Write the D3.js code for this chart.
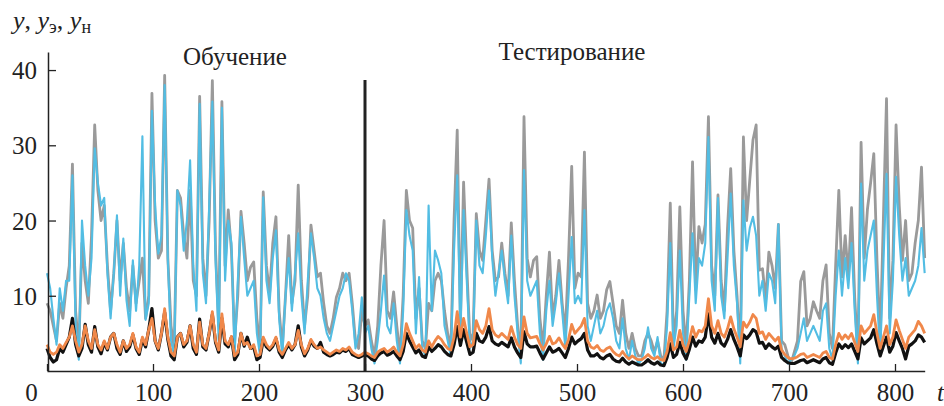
<!DOCTYPE html>
<html><head><meta charset="utf-8">
<script src="https://cdn.jsdelivr.net/npm/d3@7"></script>
<style>html,body{margin:0;padding:0;background:#fff}svg{display:block}
svg text{font-family:"Liberation Serif","DejaVu Serif",serif !important;}</style>
</head><body>
<svg id="c" width="944" height="406"></svg>
<script>
// time step of the series (t = 0, 3, 6, ... 828)
const tStep = 3;
const xTicks = [0,100,200,300,400,500,600,700,800];
const yTicks = [10,20,30,40];
const splitT = 300;
const phaseLabels = ["Обучение","Тестирование"];

// y (grey)
const yActual = [
9,8,6,4,9,7,11,14,27.5,8,
3,17,12,9,18,32.7,24,20,22,14,
8,13,20,12,17,11,8,14,9,12,
15,7,10,36.9,20,15,16,39.3,15,6,
3,24,23,18,15,24,12,10,36.5,15,
10,20,38.6,16,6,35.8,14,21.4,16,4,
10,21.2,17,12,13.8,14.5,7,3,23.8,14,
10.3,17,20.5,8,3,10,18,9,12,24.7,
12,6,10,19.4,16,12.5,13,9,6,5,
7,9.8,11,13,12,13,9,4,3,8,
6,6.8,4,2,6,14,20,8,7,10.5,
6,2,10,24,20,19,7,11,4,3,
9,8,12,13,12,8,5,3,20,32,
6,25.1,14,4,5,20.9,16,14.7,20,25.5,
16,12,12.5,17,13,10,19.7,12,6,2,
33.8,15,12.5,14.7,15.2,7,3,10,15.8,7,
10,14.7,9,5,15,27.2,11,13,12.5,29.1,
9,7,8,10.1,7,8,10.8,11.9,9,6,
5,9.4,5,3,5,3,2,2,4,5,
4,2.5,4,2,1.5,8,22.3,4,8,21.8,
8,3,12,27.8,10.8,19.2,17,19.5,33.8,14,
10,23.4,12,8,19,26.9,16,10,2,31.1,
20,25.4,30.7,32.7,13.4,13.6,9.4,15.8,14,11,
19.5,4,3.5,2,1,2.5,4,11.9,13.2,6,
7,9.2,8,7,12,14.1,5,3,14,24,
12.5,18,12.5,21.7,9.8,2,30.4,15,21.5,25,
28.9,14.7,4,20,36.2,7,14.7,32.7,22,14.7,
20,12,13,17,20,27.1,15];

// y_э (blue)
const yExp = [
13,11,7,3.5,11,8,12,12,26,6,
1.5,20,14,10,15,29.6,25,22,23,13,
7,13,20.7,10,17.6,9.4,6,14.7,8,14,
31.2,6.8,9,34.6,22,15.6,18,38,14.7,4,
2,24,22,16,20,28,14,8,35.5,13,
9,22,35.8,14.7,4,35,12,20,17,2,
12,20.5,15,10,11,12,5,2,23.1,12,
9,15,18.7,7,2,10,15,8,13,18.3,
10,5,12,18.3,15,11,10,7,5,4,
6,8,10,11,13,12,8,3,5,9.8,
5,6,3,1,4,8,12.7,6,5,9,
4,1,8,21.4,18,16,5,12.5,3,2,
22,8,16,14.7,13,6,4,2,16,26,
5,21.4,12,3,4,20,14,13,18,24,
15,10,13,16,12,9,18,10,5,1,
26.7,12,10,11,12,5,1.5,8,12,6,
9,13,8,3,10,17.8,9,10,9,21.4,
6,4,6,8,5,6,8,9,7,4,
3,7,3,1.5,4,2,1,1.5,3,5.8,
3,2,4.5,1,0.8,6,17,3,6,16,
5,1.5,10,18.3,9,15,14,17,31.1,12,
8,23,10,7,15,23.6,14,9,1,22.7,
16,19,20.5,18,10,12,8,13,12,9,
19.5,3,2,1,1.5,2,3,5,7,4,
5,6,5,4,8,9,3,1.5,10,16,
10,15,11,17,8,1,24.9,12,16,18,
20,10,2,14,26.2,5,12,25.8,18,12,
15,10,11,12,14,19,13];

// y_н (orange)
const yNet = [
3.5,2.5,2.2,2.5,3.5,3,3.8,4.5,6,4,
2.5,3.5,6,4,3,5.5,3.5,2.8,4,3,
4.5,5,3.5,2.5,4,3,3.5,5,3.2,2.5,
4.5,3.5,5.5,7,4,3,5,8.3,4.5,2.5,
2,4.5,5,3.5,4,6,3.5,2.5,6.5,3.5,
3,5,7.9,4,2.8,7.6,4,3.5,4.6,2,
2.5,5,3.5,3.8,3,3.5,2,2.2,4.5,3.5,
3,3.5,4.5,2.8,2.2,3,3.8,3,3.5,5.4,
3.5,2.3,3,4.2,3.5,3,3.2,2.8,2.5,2.2,
2.5,2.8,2.6,3,2.8,3.2,2.5,2.2,2,2.2,
2.5,2.3,2,1.8,2.5,2.8,3,2.5,2.8,3.2,
2.5,2,3.5,6.3,5,4,3,3.5,2.8,2.5,
4,3.2,4,4.6,4.2,3.5,3,2.8,4.5,7.9,
4.5,7,5,3.2,3.5,6.7,5.5,5,6,8.3,
5.5,4.8,4.5,5,4.6,4.2,5.9,4.5,3.5,3,
7.2,5,4.4,4.5,4.6,3.6,2.8,3.6,4.6,3.6,
3.8,4.4,3.6,3,4.2,6.2,5,5.5,6,7,
4,3.2,3,3.4,2.8,2.6,3,3.2,2.6,2.2,
2,2.6,2,1.6,2,1.7,1.5,1.5,1.8,2.2,
1.8,1.6,1.9,1.5,1.4,2.6,5.1,2.8,3.2,5.4,
3.5,2.6,4,5.9,4.5,5.4,5.2,6,9.6,6,
5,6.7,5,4.5,5.6,7.2,5.6,4.5,3.2,6.5,
5.8,6.5,7.5,7,5,5.2,4.2,5,4.5,4,
4.5,2.8,2.2,1.8,1.6,1.7,1.9,2.2,2.3,1.8,
2,2.2,2,1.8,2.4,2.6,1.8,1.6,3.5,5,
4.2,4.8,4.3,5,3.8,2.6,6,5,5.5,6,
7.5,5,3,4.5,6,3.5,4.5,6.8,5.4,4.2,
3,4.5,5,5.5,6.6,6,5];

// black
const yBlack = [
3,1.8,1.2,1.5,3,2.5,3.5,4.5,7,3.5,
2,3,6.2,3.5,2.5,5.9,3.2,2.3,3.8,2.8,
4.5,5,3,2.2,4,2.6,3.2,4.8,3,2.2,
4.2,3.2,5.5,8.3,4,2.8,5,7.8,4.2,2,
1.5,4.5,5,3.2,3.8,6,3,2.2,6.9,3.2,
2.8,5,7.5,3.8,2.5,7,3.6,3.2,4.5,1.5,
2.2,5,3.3,4.5,3,3.2,1.5,1.8,4.2,3.2,
2.8,3.3,4.3,2.5,1.8,2.8,3.5,2.8,3.5,6,
3.2,2,2.8,4,3.3,3,3.8,2.5,2.2,2,
2.2,2.5,2.4,2.8,2.6,3,2.2,2,1.8,2,
2.2,2,1.6,1.4,2,2.4,2.6,2.1,2.3,2.6,
2,1.5,2.6,5,4,3.2,2.4,2.8,2,1.8,
3.2,2.6,3,3.5,3.2,2.6,2.2,2,3.5,5.9,
3.4,5.5,3.8,2.2,2.5,5,4,3.8,4.5,5.9,
4,3.6,3.4,3.8,3.5,3.2,4.4,3.2,2.4,1.8,
5.2,3.6,3.2,3.2,3.3,2.4,1.6,2.4,3.2,2.5,
2.7,3,2.4,1.8,3,4.5,3.6,4,4.3,5,
2.8,2,2,2.3,1.8,1.6,2,2.2,1.6,1.3,
1.2,1.7,1.2,0.9,1.2,1,0.8,0.8,1.1,1.5,
1.1,0.9,1.2,0.8,0.7,1.8,3.6,1.8,2.2,3.8,
2.4,1.6,2.9,4.5,3.3,4,3.8,4.5,7.6,4.5,
3.7,5,3.7,3.3,4.2,5.5,4.2,3.2,2,4.8,
4.3,4.8,5.5,5.2,3.7,3.8,3,3.6,3.2,2.9,
3.3,1.8,1.4,1.1,1,1,1.2,1.4,1.5,1.1,
1.3,1.5,1.3,1.1,1.6,1.8,1.1,0.9,2.4,3.6,
3,3.5,3.1,3.6,2.6,1.6,4.4,3.6,4,4.4,
5.5,3.6,2,3.3,4.5,2.5,3.3,5.1,4,3,
1.6,3.3,3.6,4,4.8,4.5,3.8];

const svg = d3.select("#c");
svg.append("rect").attr("width",944).attr("height",406).attr("fill","#fff");
const serif = "Liberation Serif, DejaVu Serif, serif";

const tMax = (yActual.length - 1) * tStep;
const x = d3.scaleLinear().domain([0, tMax]).range([47, 47 + 1.06 * tMax]);
const y = d3.scaleLinear().domain([0, 42.4]).range([371, 52]);

const line = d3.line().x((d,i)=>x(i*tStep)).y(d=>y(d));

const series = [
  {data:yActual, color:"#9a9a9a", w:2.8},
  {data:yExp, color:"#52bde3", w:2.1},
  {data:yBlack, color:"#111111", w:3.2},
  {data:yNet, color:"#f0884a", w:2.8}
];
series.forEach(s=>{
  svg.append("path").datum(s.data).attr("d",line)
    .attr("fill","none").attr("stroke",s.color).attr("stroke-width",s.w)
    .attr("stroke-linejoin","round");
});

// split line
svg.append("line").attr("x1",x(splitT)).attr("x2",x(splitT))
  .attr("y1",80).attr("y2",371).attr("stroke","#222").attr("stroke-width",3);

// axes
const xAxis = d3.axisBottom(x).tickValues(xTicks).tickSize(-7).tickSizeOuter(0).tickFormat(d3.format("d"));
const gx = svg.append("g").attr("transform","translate(0,371)").call(xAxis);
gx.attr("font-family",serif);
gx.select(".domain").attr("stroke","#222").attr("stroke-width",1.5);
gx.selectAll(".tick line").attr("stroke","#222").attr("stroke-width",1.3);
gx.selectAll(".tick text").attr("font-size",25).attr("fill","#222")
  .attr("y",30).attr("dy",0).attr("dx",(d)=> d===0 ? -16 : 0);

const yAxis = d3.axisLeft(y).tickValues(yTicks).tickSize(-8).tickSizeOuter(0);
const gy = svg.append("g").attr("transform","translate(48,0)").call(yAxis);
gy.attr("font-family",serif);
gy.select(".domain").attr("stroke","#222").attr("stroke-width",1.5);
gy.selectAll(".tick line").attr("stroke","#222").attr("stroke-width",1.3);
gy.selectAll(".tick text").attr("font-size",25).attr("fill","#222")
  .attr("x",-11).attr("dy","0.34em");

// y label
const yl = svg.append("text").attr("x",13).attr("y",29).attr("font-size",26).attr("fill","#222");
yl.append("tspan").attr("font-style","italic").text("y");
yl.append("tspan").text(", ");
yl.append("tspan").attr("font-style","italic").text("y");
yl.append("tspan").attr("font-size",18).attr("dy",4).text("э");
yl.append("tspan").attr("dy",-4).text(", ");
yl.append("tspan").attr("font-style","italic").text("y");
yl.append("tspan").attr("font-size",18).attr("dy",4).text("н");

// x label
svg.append("text").attr("x",937).attr("y",401).attr("font-style","italic")
  .attr("font-size",25).attr("fill","#222").text("t");

// phase labels
svg.append("text").attr("x",235).attr("y",65).attr("text-anchor","middle")
  .attr("font-size",25).attr("fill","#222").text(phaseLabels[0]);
svg.append("text").attr("x",572).attr("y",60).attr("text-anchor","middle")
  .attr("font-size",25).attr("fill","#222").text(phaseLabels[1]);
</script>
</body></html>
